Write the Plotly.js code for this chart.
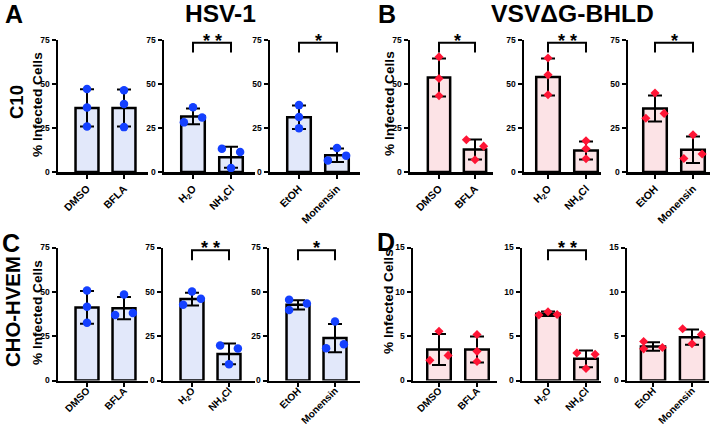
<!DOCTYPE html>
<html><head><meta charset="utf-8">
<script src="https://cdn.plot.ly/plotly-3.0.1.min.js"></script>
<style>html,body{margin:0;padding:0;background:#fff}#chart{width:720px;height:427px}</style>
</head><body><div id="chart"></div>
<script>
// ================= DATA =================
// group order in every panel: DMSO, BFLA, H2O, NH4Cl, EtOH, Monensin
const TICKS_BFLA = ['DMSO', 'BFLA'];
const TICKS_NH4CL = ['H<sub>2</sub>O', 'NH<sub>4</sub>Cl'];
const TICKS_MONENSIN = ['EtOH', 'Monensin'];

const ROW_LABELS = ['C10', 'CHO-HVEM'];
const COL_LABELS = ['HSV-1', 'VSVΔG-BHLD'];
const Y_TITLE = '% Infected Cells';

// A: HSV-1, C10
const A_MEAN = [36.4, 36.4, 31.6, 8.4, 31.1, 9.5];
const A_SD = [10.6, 10.5, 4.5, 6.0, 6.7, 3.8];
const A_POINTS = [[47.2, 36.7, 25.9], [46.5, 38.7, 25.5], [36.8, 28.2, 31.0], [13.2, 2.3, 11.3], [38.0, 31.2, 24.9], [13.6, 6.6, 9.3]];
const A_SIG = ['', '* *', '*'];

// B: VSVΔG-BHLD, C10
const B_MEAN = [53.7, 12.8, 54.0, 12.2, 36.1, 12.6];
const B_SD = [10.8, 5.7, 10.5, 5.1, 7.4, 7.5];
const B_POINTS = [[65.4, 53.1, 43.3], [18.3, 7.0, 14.7], [64.8, 55.2, 43.9], [17.7, 13.2, 7.5], [44.9, 30.5, 33.3], [21.1, 7.7, 10.2]];
const B_SIG = ['*', '* *', '*'];

// C: HSV-1, CHO-HVEM
const C_MEAN = [41.2, 40.8, 45.9, 15.0, 42.7, 23.9];
const C_SD = [9.2, 6.3, 3.6, 5.8, 2.6, 8.0];
const C_POINTS = [[50.8, 41.6, 32.6], [48.5, 37.0, 38.0], [50.2, 42.7, 46.1], [19.7, 9.2, 18.0], [45.5, 39.8, 43.4], [33.3, 18.2, 20.5]];
const C_SIG = ['', '* *', '*'];

// D: VSVΔG-BHLD, CHO-HVEM
const D_MEAN = [3.5, 3.5, 7.52, 2.44, 3.83, 4.89];
const D_SD = [1.74, 1.46, 0.25, 0.94, 0.47, 0.85];
const D_POINTS = [[5.55, 2.27, 2.83], [5.18, 3.29, 2.15], [7.75, 7.38, 7.45], [3.1, 1.35, 2.95], [4.4, 3.57, 3.72], [5.83, 4.14, 5.19]];
const D_SIG = ['', '* *', ''];

// ================= STYLE / LAYOUT =================
const W = 720, H = 427;
const FONT = 'Liberation Sans, Arial, Helvetica, sans-serif';
const JIT = 0.24;
// horizontal jitter pattern of the 3 replicate dots in each group (-1 left, 0 centre, 1 right)
const A_JITTER = [[0,0,0],[0,0,0],[0,-1,1],[-1,0,1],[0,0,0],[0,-1,1]];
const B_JITTER = [[0,0,0],[-1,0,1],[0,0,0],[0,0,0],[0,-1,1],[0,-1,1]];
const C_JITTER = [[0,0,0],[0,-1,1],[0,-1,1],[-1,0,1],[-1,-1,1],[0,-1,1]];
const D_JITTER = [[0,-1,1],[0,0,0],[0,-1,1],[-1,0,1],[-1,-1,1],[-1,0,1]];

const THEMES = {
  blue: {fill: '#E2E8FA', dot: '#1440FF', symbol: 'circle', size: 8.5},
  red: {fill: '#FCE3E6', dot: '#FF1535', symbol: 'diamond', size: 7}
};
// [y-axis x, first category x, second category x, x-axis end] in px
const ROW_PX = [[40, 172], [247.5, 380.5]];
const ROW_STANDOFF = [0, -6];
const ROW_TICKSIZE = [10.5, 10];
const PANELS = [
  {mean: A_MEAN, sd: A_SD, pts: A_POINTS, sig: A_SIG, jit: A_JITTER, theme: 'blue', ymax: 75, dtick: 25, row: 0,
   cols: [[58, 87, 124, 148], [164, 193, 231, 255], [270, 299, 337, 360]]},
  {mean: B_MEAN, sd: B_SD, pts: B_POINTS, sig: B_SIG, jit: B_JITTER, theme: 'red', ymax: 75, dtick: 25, row: 0,
   cols: [[410, 439, 475, 493], [524, 548, 586, 601], [628, 655, 693, 710]]},
  {mean: C_MEAN, sd: C_SD, pts: C_POINTS, sig: C_SIG, jit: C_JITTER, theme: 'blue', ymax: 75, dtick: 25, row: 1,
   cols: [[58, 87, 124, 148], [163, 192, 229, 255], [269, 298, 335, 360]]},
  {mean: D_MEAN, sd: D_SD, pts: D_POINTS, sig: D_SIG, jit: D_JITTER, theme: 'red', ymax: 15, dtick: 5, row: 1,
   cols: [[413, 439, 477, 497], [522, 548, 586, 601], [627, 653, 692, 709]]}
];
const TICKS = [TICKS_BFLA, TICKS_NH4CL, TICKS_MONENSIN];

const traces = [];
const layout = {
  width: W, height: H, margin: {l: 0, r: 0, t: 0, b: 0},
  paper_bgcolor: '#fff', plot_bgcolor: 'rgba(0,0,0,0)',
  showlegend: false, bargap: 0,
  font: {family: FONT, color: '#000'},
  shapes: [], annotations: []
};

let n = 0;
PANELS.forEach(p => {
  const th = THEMES[p.theme];
  const [topPx, botPx] = ROW_PX[p.row];
  const ydom = [1 - botPx / H, 1 - topPx / H];
  p.cols.forEach((c, j) => {
    n += 1;
    const xs = n === 1 ? '' : String(n);
    const xa = 'x' + xs, ya = 'y' + xs;
    const [ax, c0, c1, ex] = c;
    const sp = c1 - c0;
    const range = [-(c0 - ax) / sp, 1 + (ex - c1) / sp];
    layout['xaxis' + xs] = {
      domain: [ax / W, ex / W], range: range, anchor: ya,
      showline: true, linecolor: '#000', linewidth: 2.5, mirror: false,
      showgrid: false, zeroline: false, fixedrange: true,
      ticks: 'outside', ticklen: 4, tickwidth: 2, tickcolor: '#000',
      tickvals: [0, 1], ticktext: TICKS[j], tickangle: -45,
      ticklabelstandoff: ROW_STANDOFF[p.row],
      tickfont: {family: FONT, size: ROW_TICKSIZE[p.row], color: '#000', weight: 700}
    };
    layout['yaxis' + xs] = {
      domain: ydom, range: [0, p.ymax], anchor: xa,
      showline: true, linecolor: '#000', linewidth: 2.5,
      showgrid: false, zeroline: false, fixedrange: true,
      ticks: 'outside', ticklen: 4, tickwidth: 2, tickcolor: '#000',
      tickmode: 'linear', tick0: 0, dtick: p.dtick,
      tickfont: {family: FONT, size: 8.5, color: '#000', weight: 700}
    };
    const g0 = 2 * j, g1 = 2 * j + 1;
    traces.push({
      type: 'bar', x: [0, 1], y: [p.mean[g0], p.mean[g1]], width: 0.62,
      xaxis: xa, yaxis: ya, hoverinfo: 'skip',
      marker: {color: th.fill, line: {color: '#000', width: 2.5}},
      error_y: {type: 'data', array: [p.sd[g0], p.sd[g1]], visible: true, color: '#000', thickness: 2, width: 7}
    });
    const px = [], py = [];
    [g0, g1].forEach((g, k) => {
      p.pts[g].forEach((v, i) => { px.push(k + p.jit[g][i] * JIT); py.push(v); });
    });
    traces.push({
      type: 'scatter', mode: 'markers', x: px, y: py, xaxis: xa, yaxis: ya, hoverinfo: 'skip',
      marker: {color: th.dot, symbol: th.symbol, size: th.size, line: {width: 0}}
    });
    const s = p.sig[j];
    if (s) {
      const yTop = p.ymax * 0.98, yLeg = p.ymax * 0.905;
      layout.shapes.push({
        type: 'path', xref: xa, yref: ya,
        path: `M 0,${yLeg} L 0,${yTop} L 1,${yTop} L 1,${yLeg}`,
        line: {color: '#000', width: 2}
      });
      layout.annotations.push({
        xref: xa, yref: ya, x: 0.5, y: yTop, text: s, showarrow: false,
        xanchor: 'center', yanchor: 'middle', yshift: 2,
        font: {family: FONT, size: 18, color: '#000', weight: 700}
      });
    }
  });
});

// labels placed in pixel space; "fit" = target pixel length of the text
const FIT = [];
function paperText(text, xpx, ypx, size, angle, fit) {
  if (fit) FIT.push({idx: layout.annotations.length, target: fit});
  layout.annotations.push({
    xref: 'paper', yref: 'paper', x: xpx / W, y: 1 - ypx / H, text: text,
    showarrow: false, xanchor: 'center', yanchor: 'middle', textangle: angle || 0,
    font: {family: FONT, size: size, color: '#000', weight: 700}
  });
}
paperText('A', 14, 14, 25);
paperText('B', 387, 14, 25);
paperText('C', 11, 243, 25);
paperText('D', 386, 242, 25);
paperText(COL_LABELS[0], 220, 13, 24, 0, 71);
paperText(COL_LABELS[1], 572, 13, 25, 0, 163);
paperText(ROW_LABELS[0], 16, 102, 19, -90, 34);
paperText(ROW_LABELS[1], 13, 312, 19, -90, 111);
paperText(Y_TITLE, 37, 105, 14, -90, 105);
paperText(Y_TITLE, 389, 104, 14, -90, 105);
paperText(Y_TITLE, 37, 313, 14, -90, 105);
paperText(Y_TITLE, 388, 302, 14, -90, 105);

Plotly.newPlot('chart', traces, layout, {displayModeBar: false, staticPlot: true}).then(gd => {
  const upd = {};
  FIT.forEach(f => {
    const t = gd.querySelector('.annotation[data-index="' + f.idx + '"] text.annotation-text');
    if (!t) return;
    const w = t.getBBox().width;
    if (w > 0) {
      const s = layout.annotations[f.idx].font.size * f.target / w;
      upd['annotations[' + f.idx + '].font.size'] = Math.max(10, Math.min(30, s));
    }
  });
  return Plotly.relayout(gd, upd);
});
</script>
</body></html>
